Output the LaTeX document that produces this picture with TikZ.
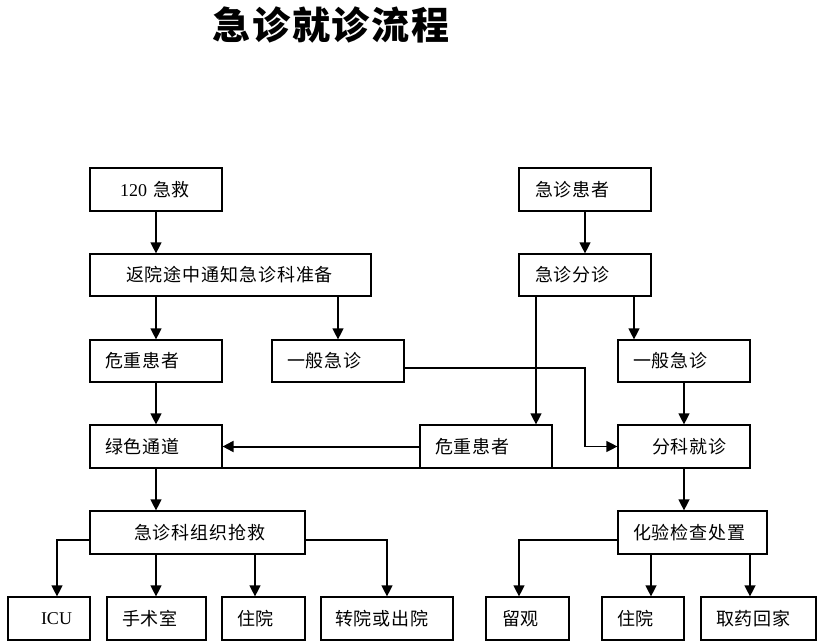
\documentclass[tikz,border=0pt]{standalone}
\usepackage{fontspec}
\setmainfont{Liberation Serif}
\newfontfamily\cjk{Noto Sans CJK SC}[LetterSpace=5.0]
\usetikzlibrary{arrows.meta}
\tikzset{
  boxst/.style={draw, line width=1.3pt, inner xsep=0pt, inner ysep=0pt, outer sep=0pt, align=left,
    font=\cjk\fontsize{18}{18}\selectfont},
  arr/.style={draw, line width=1.3pt, -{Triangle[length=11pt,width=11pt]}, shorten >=0.6pt},
  ln/.style={draw, line width=1.3pt}
}
\newcommand\mybox[7]{%
  \pgfmathsetmacro\bw{#4-#2}\pgfmathsetmacro\bh{#5-#3}%
  \pgfmathsetmacro\tw{#4-#2-2*#6}%
  \pgfmathsetmacro\cx{(#2+#4)/2}\pgfmathsetmacro\cy{(#3+#5)/2}%
  \node[boxst, minimum width=\bw pt, minimum height=\bh pt, text width=\tw pt] (#1) at (\cx,\cy) {#7};}
\begin{document}
\begin{tikzpicture}[x=1pt,y=-1pt]
\useasboundingbox (0,0) rectangle (825,644);
\node (title) at (331,25) {\cjk\bfseries\fontsize{38}{38}\selectfont 急诊就诊流程};
% left column
\mybox{e120}{90}{168}{222}{211}{30}{{\rmfamily 120 }急救}
\mybox{fanyuan}{90}{254}{371}{296}{36}{返院途中通知急诊科准备}
\mybox{wzL}{90}{340}{222}{382}{15}{危重患者}
\mybox{ybL}{272}{340}{404}{382}{15}{一般急诊}
\mybox{lstd}{90}{425}{222}{468}{15}{绿色通道}
\mybox{qiangjiu}{90}{511}{305}{554}{44}{急诊科组织抢救}
\mybox{icu}{8}{597}{90}{640}{33}{{\rmfamily ICU}}
\mybox{ssh}{107}{597}{206}{640}{15}{手术室}
\mybox{zyL}{222}{597}{305}{640}{15}{住院}
\mybox{zhuan}{321}{597}{453}{640}{14}{转院或出院}
% right column
\mybox{jzhz}{519}{168}{651}{211}{16}{急诊患者}
\mybox{fenzhen}{519}{254}{651}{296}{16}{急诊分诊}
\mybox{ybR}{618}{340}{750}{382}{15}{一般急诊}
\mybox{wzM}{420}{425}{552}{468}{15}{危重患者}
\mybox{fenke}{618}{425}{750}{468}{34}{分科就诊}
\mybox{huayan}{618}{511}{767}{554}{15}{化验检查处置}
\mybox{liuguan}{486}{597}{569}{640}{16}{留观}
\mybox{zyR}{602}{597}{684}{640}{15}{住院}
\mybox{quyao}{701}{597}{816}{640}{15}{取药回家}
% helper coordinates
\coordinate (q0) at (156,0);
\coordinate (q1) at (57,540);
\coordinate (q2) at (255,0);
\coordinate (q3) at (387,540);
\coordinate (r1) at (536,0);
\coordinate (r2) at (634,0);
\coordinate (r3) at (585,368);
\coordinate (s1) at (519,540);
\coordinate (s2) at (651,0);
\coordinate (s3) at (750,0);
% left connectors
\draw[arr] (e120.south) -- (e120.south |- fanyuan.north);
\draw[arr] (wzL.north |- fanyuan.south) -- (wzL.north);
\draw[arr] (ybL.north |- fanyuan.south) -- (ybL.north);
\draw[arr] (wzL.south) -- (lstd.north);
\draw[arr] (lstd.south) -- (lstd.south |- qiangjiu.north);
\draw[arr] (qiangjiu.west |- q1) -| (icu.north -| q1);
\draw[arr] (qiangjiu.south -| q0) -- (ssh.north -| q0);
\draw[arr] (qiangjiu.south -| q2) -- (zyL.north -| q2);
\draw[arr] (qiangjiu.east |- q3) -| (zhuan.north);
% right connectors
\draw[arr] (jzhz.south) -- (fenzhen.north);
\draw[arr] (fenzhen.south -| r1) -- (wzM.north -| r1);
\draw[arr] (fenzhen.south -| r2) -- (ybR.north -| r2);
\draw[arr] (ybL.east |- r3) -- (r3) |- (fenke.west);
\draw[arr] (ybR.south) -- (fenke.north);
\draw[arr, line width=2pt] (wzM.west) -- (lstd.east);
\draw[ln] (lstd.south east) -- (fenke.south west);
\draw[arr] (fenke.south) -- (fenke.south |- huayan.north);
\draw[arr] (huayan.west |- s1) -| (liuguan.north -| s1);
\draw[arr] (huayan.south -| s2) -- (zyR.north -| s2);
\draw[arr] (huayan.south -| s3) -- (quyao.north -| s3);
\end{tikzpicture}
\end{document}
